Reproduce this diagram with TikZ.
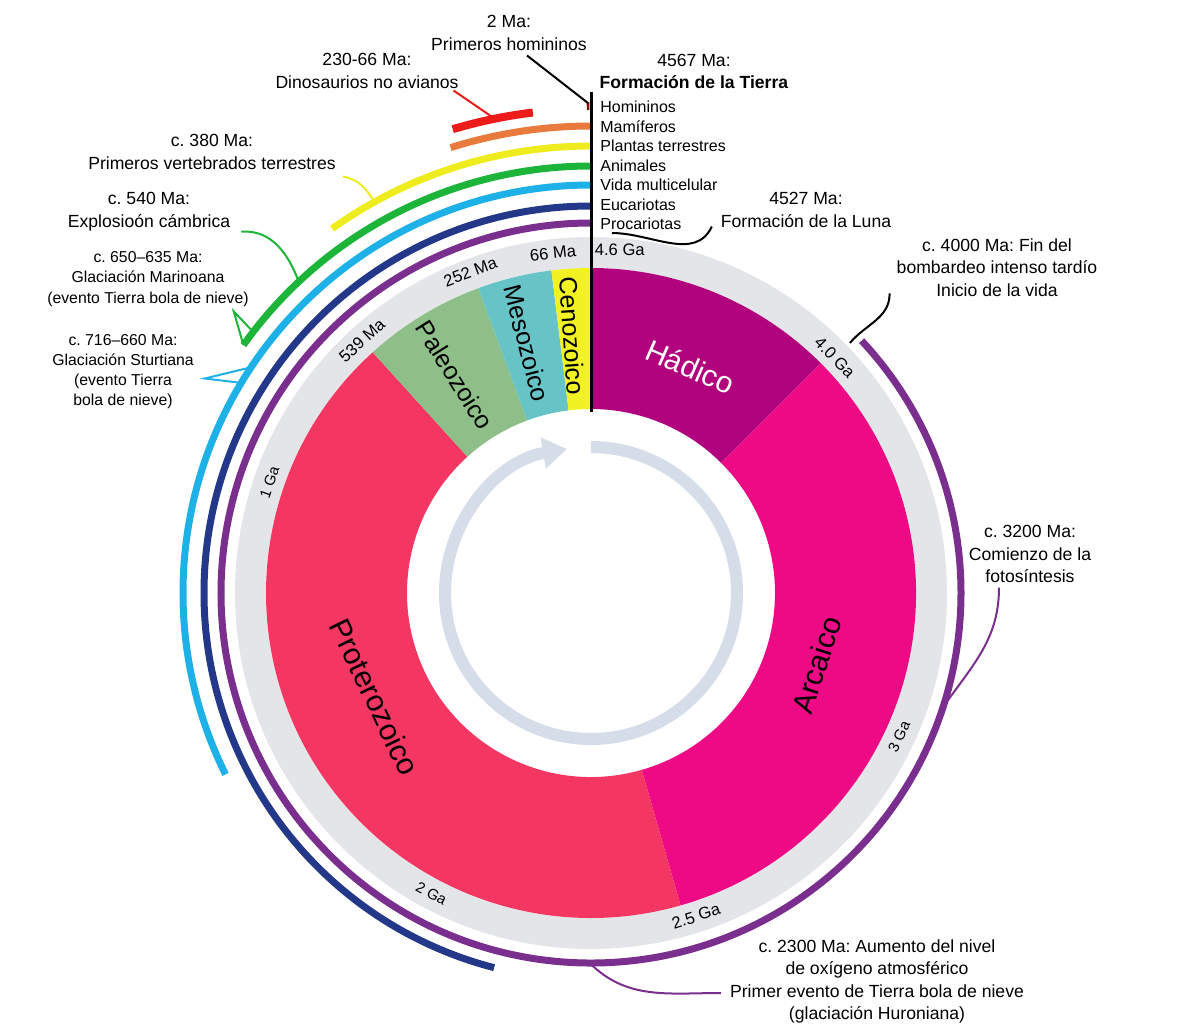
\documentclass[tikz,border=0pt]{standalone}
\usepackage{fontspec}
\setmainfont{Liberation Sans}
\usetikzlibrary{arrows.meta,calc}
\frenchspacing
\definecolor{hadean}{HTML}{B2037E}
\definecolor{archean}{HTML}{EE0A84}
\definecolor{proterozoic}{HTML}{F43663}
\definecolor{paleozoic}{HTML}{8FBF88}
\definecolor{mesozoic}{HTML}{66C3C6}
\definecolor{cenozoic}{HTML}{F1F123}
\definecolor{ringgrey}{HTML}{E3E5E9}
\definecolor{arrowgrey}{HTML}{D5DDE8}
\definecolor{prok}{HTML}{7A2E8E}
\definecolor{euk}{HTML}{24388A}
\definecolor{multi}{HTML}{1EB1E7}
\definecolor{anim}{HTML}{1DB43A}
\definecolor{plant}{HTML}{EFEC1D}
\definecolor{mamm}{HTML}{E97A3D}
\definecolor{dino}{HTML}{EE1B1B}

\begin{document}
\begin{tikzpicture}[x=0.5pt, y=0.5pt,
    note/.style={align=center, font=\fontsize{8.8}{11.2}\selectfont},
    smallnote/.style={align=center, font=\fontsize{7.9}{10.1}\selectfont},
    item/.style={anchor=west, inner sep=1pt, text height=1.5ex, text depth=0.4ex, font=\fontsize{8}{9.75}\selectfont},
    tick/.style={font=\fontsize{8.3}{10}\selectfont},
    smalltick/.style={font=\fontsize{7.5}{9}\selectfont},
    eon/.style={font=\fontsize{15}{18}\selectfont},
    smalleon/.style={font=\fontsize{12.5}{15}\selectfont},
    band/.style={line width=3.5pt},
    pointer/.style={line width=1pt}]
    \useasboundingbox (0,0) rectangle (1200,-1030);
    \begin{scope}[shift={(591,-593)}]
    % time ring and eons
    \fill[ringgrey] (0,0) circle[radius=356];
    \fill[white] (0,0) circle[radius=325];
    \foreach \a/\b/\c in {90/45/hadean, 45/-74/archean, -74/-227.8/proterozoic, 132.2/110.3/paleozoic, 110.3/97/mesozoic, 97/90/cenozoic}
        \fill[\c] (\a:184) arc[start angle=\a, end angle=\b, radius=184] -- (\b:325) arc[start angle=\b, end angle=\a, radius=325] -- cycle;
    \draw[arrowgrey, line width=6pt, -{Triangle[length=12pt,width=15pt]}] (90:146) arc[start angle=90, end angle=-260.5, radius=146];
    % life bands
    \draw[band, prok] (43:370) arc[start angle=43, end angle=-270, radius=370];
    \foreach \r/\e/\c in {387/255.5/euk, 408/206.4/multi, 427/144.5/anim, 447/125.4/plant, 467/107.5/mamm}
        \draw[band, \c] (90:\r) arc[start angle=90, end angle=\e, radius=\r];
    \draw[line width=4pt, dino] (96.9:484) arc[start angle=96.9, end angle=106.6, radius=484];
    \draw[line width=4pt, dino!55!black] (90.2:487) arc[start angle=90.2, end angle=90.5, radius=487];
    % pointer ends
    \coordinate (homtip) at (90.35:490);
    \coordinate (dinotip) at (101.7:486);
    \coordinate (verttip) at (119:447);
    \coordinate (cambtip) at (133.2:427);
    \coordinate (mar1) at (142.3:427);
    \coordinate (mar2) at (144.5:427);
    \coordinate (stu1) at (146.4:408);
    \coordinate (stu2) at (149:408);
    \coordinate (bombtip) at (44:360);
    \coordinate (fototip) at (-18:370);
    \coordinate (oxitip) at (-90.2:370);
    % eon names
    \node[eon, white, rotate=-23.7] (had) at (66.3:247) {Hádico};
    \node[eon, rotate=72.3] (arc) at (-17.7:237) {Arcaico};
    \node[eon, rotate=-64.3] (pro) at (-154.3:240) {Proterozoico};
    \node[smalleon, rotate=-58] (pal) at (122:257) {Paleozoico};
    \node[smalleon, rotate=-75.6] (mes) at (104.4:258) {Mesozoico};
    \node[smalleon, rotate=-85.9] (cen) at (94.1:258) {Cenozoico};
    % ring ticks
    \node[tick] (g46) at (85.2:344) {4.6 Ga};
    \node[tick, rotate=6.4] (m66) at (96.4:342) {66 Ma};
    \node[tick, rotate=20.6] (m252) at (110.6:343) {252 Ma};
    \node[tick, rotate=42.2] (m539) at (132.2:341) {539 Ma};
    \node[smalltick, rotate=71] (g1) at (161:340) {1 Ga};
    \node[smalltick, rotate=-28] (g2) at (-118:340) {2 Ga};
    \node[tick, rotate=18] (g25) at (-72:340) {2.5 Ga};
    \node[smalltick, rotate=65] (g3) at (-25:340) {3 Ga};
    \node[tick, rotate=-46] (g40) at (44:339) {4.0 Ga};
    \end{scope}
    \draw[line width=1.5pt] (591,-92) -- (591,-412);
    \coordinate (lunatip) at (612,-233);
    % life list
    \foreach \t [count=\i from 0] in {Homininos, Mamíferos, Plantas terrestres, Animales, Vida multicelular, Eucariotas, Procariotas}
        \node[item] (life\i) at (598,-107-19.5*\i) {\t};
    % notes
    \node[note] (hmn) at (509,-33) {2 Ma:\\Primeros homininos};
    \node[note] (tierra) at (694,-71.5) {4567 Ma:\\\textbf{Formación de la Tierra}};
    \node[note] (dinos) at (367,-71) {230-66 Ma:\\Dinosaurios no avianos};
    \node[note] (vert) at (212,-152) {c. 380 Ma:\\Primeros vertebrados terrestres};
    \node[note] (camb) at (149,-211.5) {c. 540 Ma:\\Explosioón cámbrica};
    \node[smallnote] (mar) at (148,-279) {c. 650–635 Ma:\\Glaciación Marinoana\\(evento Tierra bola de nieve)};
    \node[smallnote] (stu) at (123,-371.5) {c. 716–660 Ma:\\Glaciación Sturtiana\\(evento Tierra\\bola de nieve)};
    \node[note] (luna) at (806,-210) {4527 Ma:\\Formación de la Luna};
    \node[note] (bomb) at (997,-267.5) {c. 4000 Ma: Fin del\\bombardeo intenso tardío\\Inicio de la vida};
    \node[note] (foto) at (1030,-554) {c. 3200 Ma:\\Comienzo de la\\fotosíntesis};
    \node[note] (oxi) at (877,-981.5) {c. 2300 Ma: Aumento del nivel\\de oxígeno atmosférico\\Primer evento de Tierra bola de nieve\\(glaciación Huroniana)};
    % pointers
    \draw[pointer] ($(hmn.south)+(18,2)$) -- (homtip);
    \draw[pointer, dino] ($(dinos.south east)+(-12,5)$) -- (dinotip);
    \draw[pointer, plant] (vert.south east) to[out=-10, in=120] (verttip);
    \draw[pointer, anim] ($(camb.south east)+(4,6)$) to[out=5, in=110] (cambtip);
    \draw[pointer, anim] (mar1) -- ($(mar.south east)+(-22,2)$) -- (mar2);
    \draw[pointer, multi] (stu1) -- ($(stu.east)+(4,-7)$) -- (stu2);
    \draw[pointer] ($(luna.south west)+(-2,8)$) to[out=-115, in=0] (lunatip);
    \draw[pointer] ($(bomb.south west)+(0,10)$) to[out=-90, in=50] (bombtip);
    \draw[pointer, prok] ($(foto.south)+(-31,2)$) to[out=-90, in=55] (fototip);
    \draw[pointer, prok] (oxitip) to[out=-45, in=180] ($(oxi.west)+(-2,-11.5)$);
\end{tikzpicture}
\end{document}
